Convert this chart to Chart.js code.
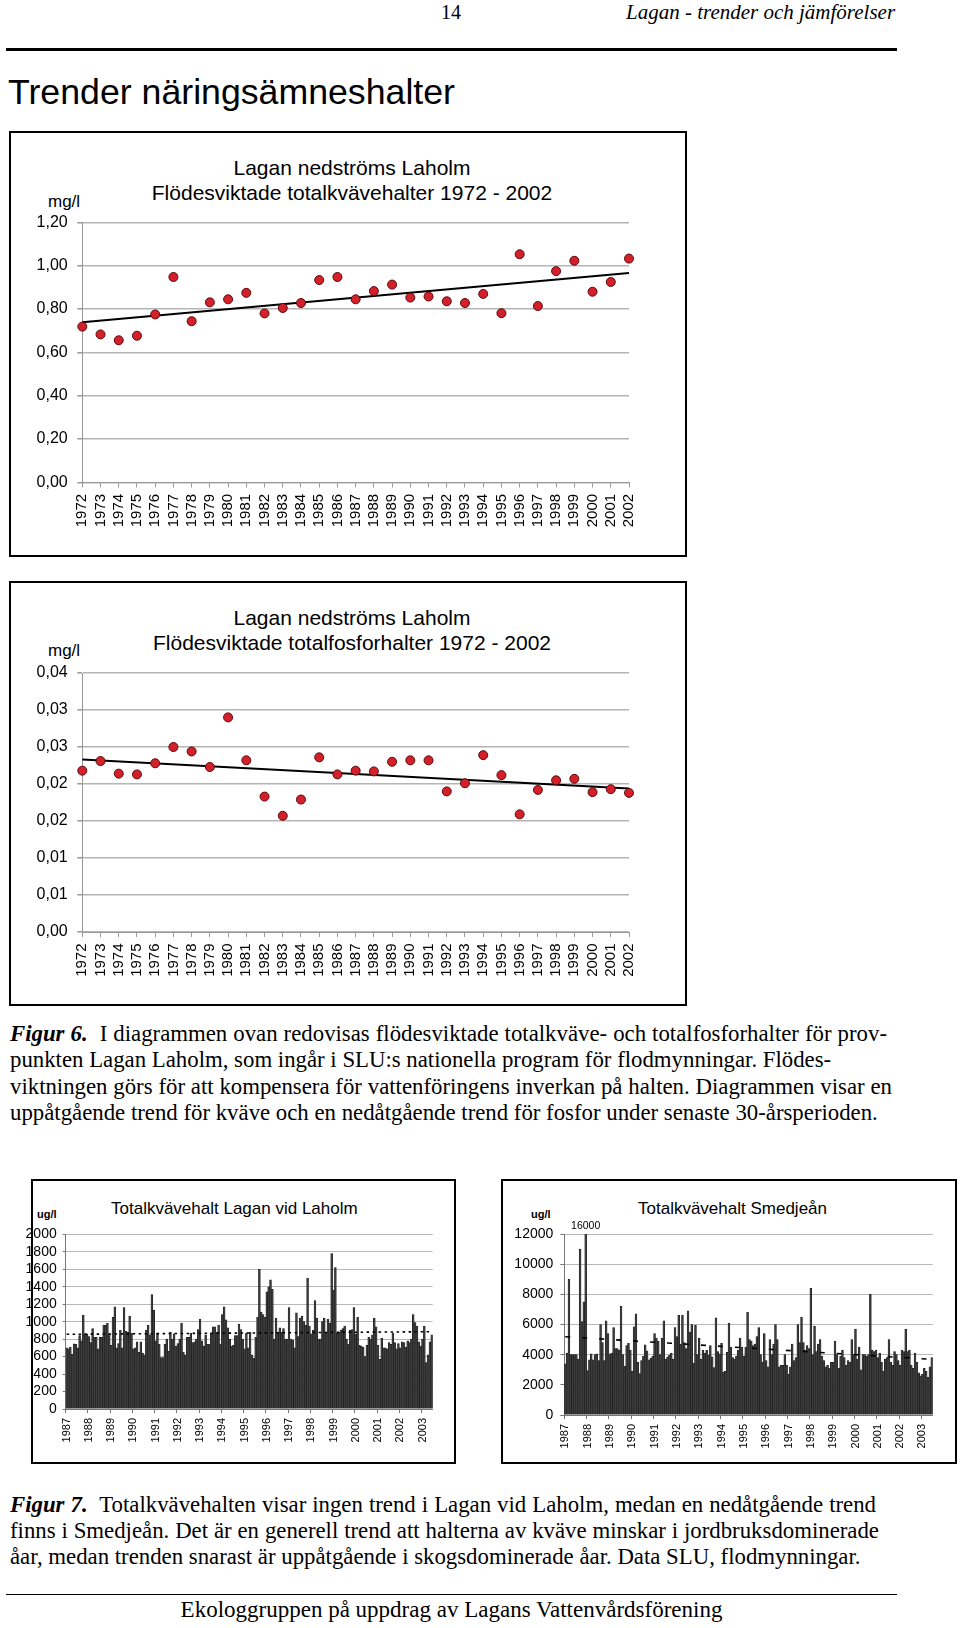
<!DOCTYPE html>
<html>
<head>
<meta charset="UTF-8">
<script src="https://cdn.jsdelivr.net/npm/chart.js@4.4.1/dist/chart.umd.min.js"></script>
<title>Lagan - trender och jämförelser</title>
<style>
body{margin:0;background:#fff}
#page{position:relative;width:960px;height:1628px;overflow:hidden;font-family:"Liberation Sans",Arial,sans-serif;color:#000}
.abs{position:absolute;white-space:nowrap;transform:translateY(-50%)}
.serif{font-family:"Liberation Serif","Times New Roman",serif}
.frame{position:absolute;border:2px solid #000;box-sizing:border-box}
.rule{position:absolute;background:#000}
canvas{position:absolute}
.ct{font-size:21px;text-align:center;width:500px}
.jl{text-align:justify;text-align-last:justify}
.cap{font-size:22.8px}
</style>
</head>
<body>
<div id="page">
	<div class="abs serif" style="left:441px;top:12px;font-size:20px">14</div>
	<div class="abs serif" style="left:626px;top:12px;font-size:21px;font-style:italic">Lagan - trender och jämförelser</div>
	<div class="rule" style="left:6px;top:48px;width:891px;height:3px"></div>
	<div class="abs" style="left:8px;top:92px;font-size:35.7px">Trender näringsämneshalter</div>

	<!-- figur 6 -->
	<div class="frame" style="left:9px;top:131px;width:678px;height:426px"></div>
	<div class="abs ct" style="left:102px;top:168px">Lagan nedströms Laholm</div>
	<div class="abs ct" style="left:102px;top:193px">Flödesviktade totalkvävehalter 1972 - 2002</div>
	<div class="abs" style="left:48px;top:202px;font-size:17px">mg/l</div>
	<canvas id="chartN" width="676" height="345" style="left:9px;top:200px"></canvas>

	<div class="frame" style="left:9px;top:581px;width:678px;height:425px"></div>
	<div class="abs ct" style="left:102px;top:618px">Lagan nedströms Laholm</div>
	<div class="abs ct" style="left:102px;top:643px">Flödesviktade totalfosforhalter 1972 - 2002</div>
	<div class="abs" style="left:48px;top:651px;font-size:17px">mg/l</div>
	<canvas id="chartP" width="676" height="350" style="left:9px;top:650px"></canvas>

	<div class="abs serif cap jl" style="left:10px;top:1034px;width:877px"><b><i>Figur 6.</i></b>&nbsp; I diagrammen ovan redovisas flödesviktade totalkväve- och totalfosforhalter för prov-</div>
	<div class="abs serif cap" style="left:10px;top:1060px">punkten Lagan Laholm, som ingår i SLU:s nationella program för flodmynningar. Flödes-</div>
	<div class="abs serif cap jl" style="left:10px;top:1087px;width:882px">viktningen görs för att kompensera för vattenföringens inverkan på halten. Diagrammen visar en</div>
	<div class="abs serif cap" style="left:10px;top:1113px">uppåtgående trend för kväve och en nedåtgående trend för fosfor under senaste 30-årsperioden.</div>

	<!-- figur 7 -->
	<div class="frame" style="left:31px;top:1179px;width:425px;height:285px"></div>
	<div class="abs" style="left:37px;top:1214px;font-size:11px;font-weight:bold">ug/l</div>
	<div class="abs" style="left:111px;top:1209px;font-size:17px">Totalkvävehalt Lagan vid Laholm</div>
	<canvas id="chartL" width="430" height="240" style="left:20px;top:1215px"></canvas>

	<div class="frame" style="left:501px;top:1179px;width:456px;height:285px"></div>
	<div class="abs" style="left:531px;top:1214px;font-size:11px;font-weight:bold">ug/l</div>
	<div class="abs" style="left:638px;top:1209px;font-size:17px">Totalkvävehalt Smedjeån</div>
	<canvas id="chartS" width="450" height="245" style="left:500px;top:1215px"></canvas>

	<div class="abs serif cap jl" style="left:10px;top:1505px;width:866px"><b><i>Figur 7.</i></b>&nbsp; Totalkvävehalten visar ingen trend i Lagan vid Laholm, medan en nedåtgående trend</div>
	<div class="abs serif cap jl" style="left:10px;top:1531px;width:869px">finns i Smedjeån. Det är en generell trend att halterna av kväve minskar i jordbruksdominerade</div>
	<div class="abs serif cap" style="left:10px;top:1557px">åar, medan trenden snarast är uppåtgående i skogsdominerade åar. Data SLU, flodmynningar.</div>

	<div class="rule" style="left:6px;top:1594px;width:891px;height:1px"></div>
	<div class="abs serif" style="left:0;width:903px;text-align:center;top:1610px;font-size:23px">Ekologgruppen på uppdrag av Lagans Vattenvårdsförening</div>
</div>

<script>
// årsvärden 1972-2002
var years = [1972,1973,1974,1975,1976,1977,1978,1979,1980,1981,1982,1983,1984,1985,1986,1987,
	1988,1989,1990,1991,1992,1993,1994,1995,1996,1997,1998,1999,2000,2001,2002];
// totalkväve mg/l
var totN = [0.719,0.683,0.656,0.677,0.775,0.948,0.744,0.831,0.845,0.875,0.780,0.805,0.828,0.934,0.948,0.845,
	0.883,0.913,0.853,0.858,0.836,0.828,0.870,0.781,1.053,0.814,0.975,1.023,0.880,0.925,1.033];
var trendN = [0.739, 0.967];
// totalfosfor mg/l
var totP = [0.0218,0.0231,0.0214,0.0213,0.0228,0.0250,0.0244,0.0223,0.0290,0.0232,0.0183,0.0157,0.0179,0.0236,0.0213,0.0218,
	0.0217,0.0230,0.0232,0.0232,0.0190,0.0201,0.0239,0.0212,0.0159,0.0192,0.0205,0.0207,0.0189,0.0193,0.0188];
var trendP = [0.0233, 0.0194];

// månadsvärden jan 1987 - jun 2003, ug/l
var barYears = [1987,1988,1989,1990,1991,1992,1993,1994,1995,1996,1997,1998,1999,2000,2001,2002,2003];
var lagan = [
	700,690,705,625,745,740,700,840,780,1075,860,855,
	830,760,920,820,820,690,820,820,960,960,980,860,
	730,1050,1170,700,750,900,700,1160,890,880,1060,870,
	690,700,770,650,770,640,620,900,960,850,1310,1130,
	780,870,740,590,590,740,800,660,880,800,860,720,
	750,800,980,650,620,820,820,870,760,770,800,910,
	1030,780,720,850,740,740,870,940,940,880,960,740,
	1080,1170,1020,930,800,720,730,840,840,970,910,800,
	690,870,700,880,620,580,820,1050,1600,1110,1080,1050,
	1340,1400,1480,1370,800,1040,880,930,880,920,800,800,
	1160,800,790,700,1100,830,1040,1060,1000,960,1500,950,
	860,900,1240,1040,800,800,1000,1040,870,1030,980,1780,
	1360,1620,870,880,900,920,950,800,740,900,910,1160,
	860,1050,730,720,710,600,730,820,800,850,1040,940,
	730,570,810,700,700,690,760,740,870,760,690,750,
	700,770,760,710,780,760,800,1080,990,950,770,720,
	800,950,530,620,770,850];
var laganTrend = [855, 885];
var smedje = [
	3400,4100,9000,4000,4000,4000,4000,3700,11000,6200,7500,16000,
	2950,3650,4050,3650,4000,4050,3600,6000,4800,3600,6250,5400,
	4050,4100,5800,4400,4400,4300,7200,4000,3250,4600,4750,4300,
	2900,5850,6700,3500,2750,3600,3900,4650,4250,3650,3750,3900,
	5400,5100,4900,4000,5100,6250,3700,3850,3950,4100,3700,5800,
	5200,6600,4700,6600,4800,4400,6900,5500,6000,3450,5950,4000,
	5100,3700,4300,4100,4300,3950,4600,3850,3150,6450,4200,4050,
	4750,2850,2900,4150,6100,4500,3800,3700,3900,4300,5100,4500,
	3900,4500,6800,5000,4900,4600,4700,5200,5800,4000,3500,5400,
	3600,3200,5000,4000,4700,6000,5000,3200,3300,3300,4000,3300,
	2700,3200,4700,3600,3800,6000,4800,6500,4800,4300,4600,4400,
	8400,4000,5900,4200,4700,5000,3900,3600,3200,3300,3100,3500,
	3500,4900,4000,3100,3900,4300,3800,3300,3600,3500,5000,4000,
	5700,3700,4500,3000,4000,4000,3900,4000,8000,4300,4200,4300,
	3800,4100,3500,2900,3700,3800,5000,3500,3300,4200,4000,3600,
	3300,4300,4200,5700,4200,4300,3300,3100,4100,3500,2800,2600,
	2700,3100,2900,2500,3200,3800];
var smedjeTrend = [5190, 3690];

Chart.defaults.font.family = '"Liberation Sans", Arial, sans-serif';
Chart.defaults.color = '#000';
Chart.defaults.animation = false;
Chart.defaults.plugins.legend.display = false;
Chart.defaults.plugins.tooltip.enabled = false;

function comma(d){ return function(v){ return (Math.round(v*100 + 1e-9)/100).toFixed(d).replace('.', ','); }; }

function trendChart(id, values, trend, yMax, yStep, top, xh){
	new Chart(document.getElementById(id), {
		type: 'scatter',
		data: {
			datasets: [{
				data: years.map(function(x, i){ return {x: x, y: values[i]}; }),
				pointRadius: 4.5,
				pointBackgroundColor: '#d3202a',
				pointBorderColor: '#5a0a0a',
				pointBorderWidth: 1,
				clip: false,
				order: 0
			}, {
				type: 'line',
				data: [{x: years[0], y: trend[0]}, {x: years[years.length-1], y: trend[1]}],
				borderColor: '#000',
				borderWidth: 2,
				pointRadius: 0,
				clip: false,
				order: 1
			}]
		},
		options: {
			responsive: false,
			layout: {padding: {top: top, right: 56, left: 0, bottom: 0}},
			scales: {
				x: {
					type: 'linear', min: years[0], max: years[years.length-1],
					afterFit: function(s){ s.height = xh; },
					ticks: {stepSize: 1, autoSkip: false, minRotation: 90, maxRotation: 90, padding: 6.5,
						font: {size: 15}, callback: function(v){ return String(v); }},
					grid: {drawOnChartArea: false, tickLength: 5, color: '#999'},
					border: {color: '#999'}
				},
				y: {
					min: 0, max: yMax,
					afterFit: function(s){ s.width = 73.3; },
					ticks: {stepSize: yStep, autoSkip: false, padding: 9.6, font: {size: 16}, callback: comma(2)},
					grid: {color: '#b5b5b5', lineWidth: 1.5, tickLength: 5, tickColor: '#999'},
					border: {color: '#999'}
				}
			}
		}
	});
}
trendChart('chartN', totN, trendN, 1.2, 0.2, 22.4, 62.6);
trendChart('chartP', totP, trendP, 0.035, 0.005, 23, 68);

// kategorier för månadsstaplarna
var barLabels = [];
barYears.forEach(function(y){
	var n = y === 2003 ? 6 : 12;
	for (var m = 1; m <= n; m++) barLabels.push(y + '-' + m);
});

function ends(pair){
	var a = barLabels.map(function(){ return null; });
	a[0] = pair[0]; a[a.length-1] = pair[1];
	return a;
}

// skriver ut värdet för staplar som går över skalan
var overLabel = {
	id: 'overLabel',
	afterDatasetsDraw: function(chart){
		var ys = chart.scales.y, meta = chart.getDatasetMeta(0), ctx = chart.ctx;
		chart.data.datasets[0].data.forEach(function(v, i){
			if (v > ys.max) {
				ctx.save();
				ctx.font = '10.5px "Liberation Sans", Arial';
				ctx.fillStyle = '#000';
				ctx.textAlign = 'center';
				ctx.textBaseline = 'middle';
				ctx.fillText(String(v), meta.data[i].x, chart.chartArea.top - 8);
				ctx.restore();
			}
		});
	}
};

function barChart(id, values, trend, dash, yMax, yStep, opt){
	new Chart(document.getElementById(id), {
		type: 'bar',
		data: {
			labels: barLabels,
			datasets: [{
				data: values,
				backgroundColor: '#3d3d3d',
				borderColor: '#141414',
				borderWidth: 0.5,
				barPercentage: 1,
				categoryPercentage: 1,
				order: 1
			}, {
				type: 'line',
				data: ends(trend),
				spanGaps: true,
				borderColor: '#000',
				borderWidth: 1.6,
				borderDash: dash,
				pointRadius: 0,
				order: 0
			}]
		},
		options: {
			responsive: false,
			layout: {padding: {top: opt.top, right: opt.right, left: 0, bottom: 0}},
			scales: {
				x: {
					afterFit: function(s){ s.height = opt.xh; },
					ticks: {autoSkip: false, minRotation: 90, maxRotation: 90, padding: 5, font: {size: 11},
						callback: function(v, i){ return i % 12 === 0 ? barLabels[i].slice(0, 4) : ''; }},
					grid: {offset: true, drawOnChartArea: false, tickLength: 4,
						color: function(c){ return c.index % 12 === 0 ? '#777' : 'rgba(0,0,0,0)'; }},
					border: {color: '#777'}
				},
				y: {
					min: 0, max: yMax,
					afterFit: function(s){ s.width = opt.yw; },
					ticks: {stepSize: yStep, autoSkip: false, padding: opt.pad, font: {size: opt.fs},
						callback: function(v){ return String(v); }},
					grid: {color: '#b8b8b8', lineWidth: 1, tickLength: opt.tl, tickColor: '#777'},
					border: {color: '#777'}
				}
			}
		},
		plugins: [overLabel]
	});
}
barChart('chartL', lagan, laganTrend, [2.5, 3.5], 2000, 200,
	{top: 19.3, right: 15.7, xh: 46, yw: 45.7, pad: 6, fs: 14, tl: 3});
barChart('chartS', smedje, smedjeTrend, [5, 12], 12000, 2000,
	{top: 19, right: 16, xh: 45, yw: 64.3, pad: 7, fs: 14, tl: 4});
</script>
</body>
</html>
